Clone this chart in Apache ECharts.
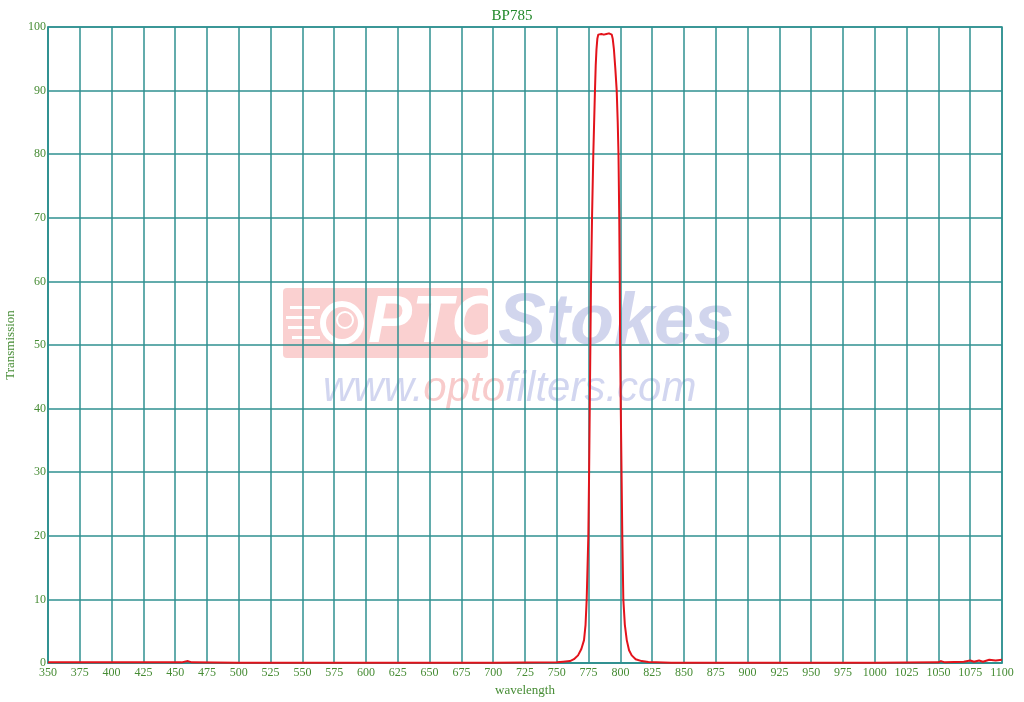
<!DOCTYPE html>
<html>
<head>
<meta charset="utf-8">
<script src="https://cdn.jsdelivr.net/npm/echarts@6/dist/echarts.min.js"></script>
<style>html,body{margin:0;padding:0;background:#fff}#c{width:1024px;height:702px}</style>
</head>
<body>
<div id="c"></div>
<script>
const wavelength = [350,400,455,460,463,500,600,700,750,755,760.4,763.5,766.7,769.3,771.4,772.6,773.5,774.8,775.4,775.9,776.4,776.9,777.7,778.7,780,780.6,781.2,781.9,782.6,785,787,789,791,793.2,794,794.9,796,797.1,797.9,798.5,799.1,799.5,799.8,800.3,800.9,801.5,802.3,803.5,805,806.8,808.9,812,816.7,822,840,900,1000,1050,1052,1055,1070,1075,1078,1082,1085,1090,1095,1100];
const transmission = [0.1,0.1,0.1,0.3,0.1,0.05,0.05,0.05,0.1,0.2,0.3,0.6,1.2,2.2,3.6,6,10,20,30,40,50,60,70,80,90,94,96.5,98.2,98.8,98.9,98.8,98.9,99.0,98.8,98.1,96.5,93.5,90,85,80,70,60,50,40,30,20,10,6,3.6,2,1.2,0.6,0.3,0.15,0.05,0.05,0.05,0.1,0.3,0.1,0.2,0.4,0.2,0.4,0.2,0.5,0.4,0.5];
const xTicks = {min:350, max:1100, step:25};
const yTicks = {min:0, max:100, step:10};
const titleText = 'BP785';

const gridColor = '#2f9090';
const labelColor = '#468c34';
const serif = '"Liberation Serif","DejaVu Serif",serif';

const chart = echarts.init(document.getElementById('c'));
chart.setOption({
  animation:false,
  backgroundColor:'#fff',
  title:{text:titleText,left:'center',top:4,textStyle:{fontFamily:serif,fontSize:15,fontWeight:'normal',color:'#23892b'}},
  grid:{left:48,right:22,top:27,bottom:39,containLabel:false,outerBoundsMode:'none',show:true,borderColor:gridColor,borderWidth:1.5},
  xAxis:{type:'value',min:xTicks.min,max:xTicks.max,interval:xTicks.step,
    name:'wavelength',nameLocation:'middle',nameGap:19,
    nameTextStyle:{fontFamily:serif,fontSize:13,color:labelColor},
    axisLine:{lineStyle:{color:gridColor,width:1.5}},axisTick:{show:false},
    axisLabel:{fontFamily:serif,fontSize:12,color:labelColor,margin:4,showMaxLabel:true,showMinLabel:true,formatter:v=>String(v)},
    splitLine:{show:true,lineStyle:{color:gridColor,width:1.5}}},
  yAxis:{type:'value',min:yTicks.min,max:yTicks.max,interval:yTicks.step,
    name:'Transmission',nameLocation:'middle',nameGap:27,nameRotate:90,
    nameTextStyle:{fontFamily:serif,fontSize:13,color:labelColor},
    axisLine:{show:true,lineStyle:{color:gridColor,width:1.5}},axisTick:{show:false},
    axisLabel:{fontFamily:serif,fontSize:12,color:labelColor,margin:2,verticalAlign:'middle',padding:[0,0,8,0],formatter:v=>String(v)},
    splitLine:{show:true,lineStyle:{color:gridColor,width:1.5}}},
  graphic:[
    {type:'group',z:1,silent:true,children:[
      {type:'rect',shape:{x:283,y:288,width:205,height:70,r:4},style:{fill:'rgba(245,170,170,0.55)'}},
      {type:'circle',shape:{cx:342,cy:323,r:19},style:{fill:'none',stroke:'#fff',lineWidth:6}},
      {type:'circle',shape:{cx:345,cy:320,r:8},style:{fill:'none',stroke:'#fff',lineWidth:2}},
      {type:'rect',shape:{x:290,y:306,width:30,height:3},style:{fill:'#fff'}},
      {type:'rect',shape:{x:286,y:316,width:28,height:3},style:{fill:'#fff'}},
      {type:'rect',shape:{x:288,y:326,width:26,height:3},style:{fill:'#fff'}},
      {type:'rect',shape:{x:292,y:336,width:28,height:3},style:{fill:'#fff'}},
      {type:'text',x:368,y:324,style:{text:'PTO',fill:'#fff',font:'italic bold 66px "Liberation Sans", Arial, sans-serif',verticalAlign:'middle',align:'left'}},
      {type:'text',x:498,y:324,style:{text:'Stokes',fill:'rgba(190,195,230,0.7)',font:'italic bold 72px "Liberation Sans", Arial, sans-serif',verticalAlign:'middle',align:'left'}},
      {type:'text',x:323,y:389,style:{rich:{a:{fill:'rgba(195,200,235,0.75)',font:'italic 42px "Liberation Sans", Arial, sans-serif'},b:{fill:'rgba(245,185,185,0.75)',font:'italic 42px "Liberation Sans", Arial, sans-serif'}},text:'{a|www.}{b|opto}{a|filters.com}',verticalAlign:'middle',align:'left'}}
    ]}
  ],
  series:[{type:'line',z:10,data:wavelength.map((w,i)=>[w,transmission[i]]),showSymbol:false,smooth:false,
    lineStyle:{color:'#e3131b',width:2,join:'round'},clip:true}]
});
</script>
</body>
</html>
